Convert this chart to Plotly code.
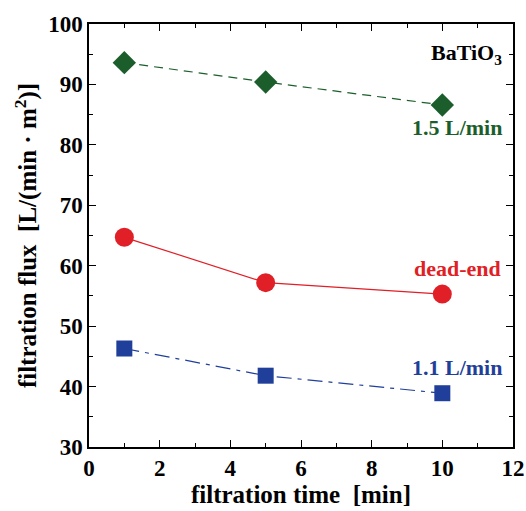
import plotly.graph_objects as go

time_min = [1, 5, 10]
flux_15 = [93.6, 90.4, 86.6]
flux_dead = [64.7, 57.2, 55.3]
flux_11 = [46.3, 41.8, 38.9]

GREEN = "#1b5e2c"
RED = "#e01f27"
BLUE = "#1f3f9a"
FONT = "Liberation Serif"

fig = go.Figure()
fig.add_trace(go.Scatter(x=time_min, y=flux_15, mode="lines+markers",
                         line=dict(color=GREEN, width=1.2, dash="9px,6px"),
                         marker=dict(symbol="diamond", size=18, color=GREEN)))
fig.add_trace(go.Scatter(x=time_min, y=flux_dead, mode="lines+markers",
                         line=dict(color=RED, width=1.2),
                         marker=dict(symbol="circle", size=19, color=RED)))
fig.add_trace(go.Scatter(x=time_min, y=flux_11, mode="lines+markers",
                         line=dict(color=BLUE, width=1.2, dash="15px,6px,4px,6px"),
                         marker=dict(symbol="square", size=16, color=BLUE)))

ann_font = dict(family=FONT, size=22)
fig.add_annotation(x=11.75, y=95.0, xref="x", yref="y", xanchor="right", showarrow=False,
                   text="<b>BaTiO<sub>3</sub></b>", font=dict(family=FONT, size=22, color="black"))
fig.add_annotation(x=11.75, y=82.9, xref="x", yref="y", xanchor="right", showarrow=False,
                   text="<b>1.5 L/min</b>", font=dict(ann_font, color=GREEN))
fig.add_annotation(x=11.72, y=59.6, xref="x", yref="y", xanchor="right", showarrow=False,
                   text="<b>dead-end</b>", font=dict(ann_font, color=RED))
fig.add_annotation(x=11.75, y=43.2, xref="x", yref="y", xanchor="right", showarrow=False,
                   text="<b>1.1 L/min</b>", font=dict(ann_font, color=BLUE))

axis_common = dict(showgrid=False, zeroline=False, showline=True, linecolor="black", linewidth=1.5,
                   mirror="allticks", ticks="inside", ticklen=7, tickwidth=1.2, tickcolor="black",
                   automargin=False,
                   tickfont=dict(family=FONT, size=23, color="black"))
fig.update_xaxes(range=[0, 12], dtick=2, tick0=0,
                 minor=dict(dtick=1, ticks="inside", ticklen=4, tickcolor="black", tickwidth=1.2),
                 title=dict(text="<b>filtration time&nbsp;&nbsp;[min]</b>", font=dict(family=FONT, size=25, color="black"), standoff=0),
                 **axis_common)
fig.update_yaxes(range=[30, 100], dtick=10, tick0=30,
                 minor=dict(dtick=5, ticks="inside", ticklen=4, tickcolor="black", tickwidth=1.2),
                 title=dict(text="<b>filtration flux&nbsp;&nbsp;[L/(min · m<sup>2</sup>)]</b>", font=dict(family=FONT, size=25, color="black"), standoff=4),
                 **axis_common)
fig.update_xaxes(tickprefix="<b>", ticksuffix="</b>")
fig.update_yaxes(tickprefix="<b>", ticksuffix="</b>")

fig.update_layout(width=526, height=511, showlegend=False,
                  margin=dict(l=89, r=13, t=24, b=64),
                  plot_bgcolor="white", paper_bgcolor="white")
fig.write_html("out.html", config={"displayModeBar": False},
               post_script="document.body.style.margin='0';document.body.style.overflow='hidden';")
